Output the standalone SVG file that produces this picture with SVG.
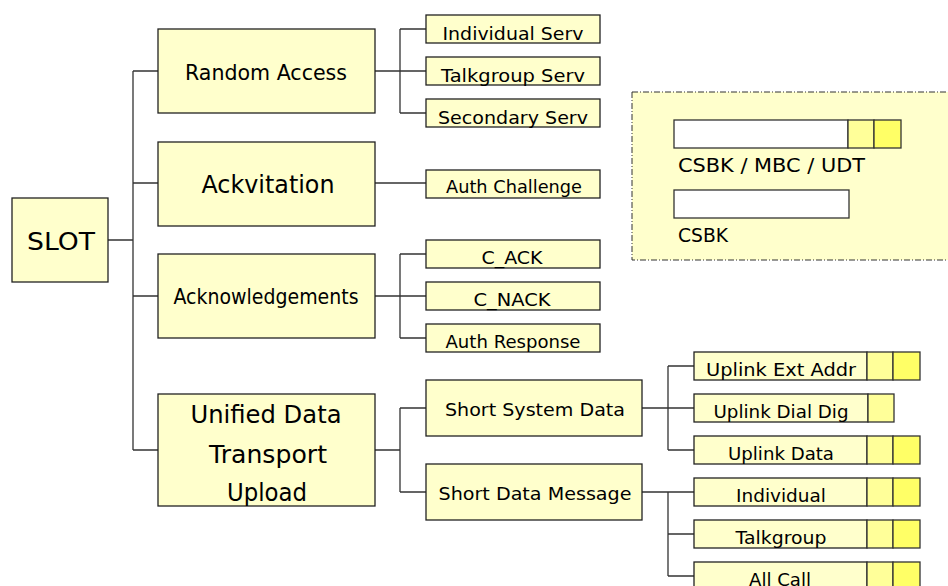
<svg xmlns="http://www.w3.org/2000/svg" width="948" height="586" viewBox="0 0 948 586">
<style>
.n{fill:#FFFFCC;stroke:#222;stroke-width:1.3}
.w{fill:#FFFFFF;stroke:#333;stroke-width:1.3}
.l{fill:#FFFF99;stroke:#333;stroke-width:1.3}
.y{fill:#FFFF66;stroke:#333;stroke-width:1.3}
.c{fill:none;stroke:#333;stroke-width:1.3}
text{font-family:"DejaVu Sans","Liberation Sans",sans-serif;fill:#000;text-anchor:middle}
.b{font-size:25px}
.m{font-size:22px}
.s{font-size:18px}
.t{font-size:19px;text-anchor:start}
</style>
<rect width="948" height="586" fill="#FFFFFF"/>
<g id="legend">
<rect x="632" y="92" width="330" height="168" fill="#FFFFCC" stroke="#333" stroke-width="1" stroke-dasharray="6 2 1 2"/>
<rect class="w" x="674" y="120" width="174" height="28"/>
<rect class="l" x="848" y="120" width="26" height="28"/>
<rect class="y" x="874" y="120" width="27" height="28"/>
<text class="t" x="678" y="172" textLength="187" lengthAdjust="spacingAndGlyphs">CSBK / MBC / UDT</text>
<rect class="w" x="674" y="190" width="175" height="28"/>
<text class="t" x="678" y="242" textLength="50" lengthAdjust="spacingAndGlyphs">CSBK</text>
</g>
<g id="connectors">
<path class="c" d="M108,240H133M133,71V450M133,71H158M133,183H158M133,296H158M133,450H158"/>
<path class="c" d="M375,71H400M400,29V113M400,29H426M400,71H426M400,113H426"/>
<path class="c" d="M375,183H426"/>
<path class="c" d="M375,296H400M400,254V338M400,254H426M400,296H426M400,338H426"/>
<path class="c" d="M375,450H400M400,408V492M400,408H426M400,492H426"/>
<path class="c" d="M642,408H668M668,366V450M668,366H694M668,408H694M668,450H694"/>
<path class="c" d="M642,492H668M668,492V576M668,492H694M668,534H694M668,576H694"/>
</g>
<g id="slot"><rect class="n" x="12" y="198" width="96" height="84"/><text class="b" x="61" y="250" textLength="68" lengthAdjust="spacingAndGlyphs">SLOT</text></g>
<g id="random-access"><rect class="n" x="158" y="29" width="217" height="84"/><text class="m" x="266" y="80" textLength="162" lengthAdjust="spacingAndGlyphs">Random Access</text></g>
<g id="ackvitation"><rect class="n" x="158" y="142" width="217" height="84"/><text class="b" x="268" y="193" textLength="133" lengthAdjust="spacingAndGlyphs">Ackvitation</text></g>
<g id="acknowledgements"><rect class="n" x="158" y="254" width="217" height="84"/><text class="m" x="266" y="304" textLength="185" lengthAdjust="spacingAndGlyphs">Acknowledgements</text></g>
<g id="udt-upload"><rect class="n" x="158" y="394" width="217" height="112"/>
<text class="b" x="266" y="423" textLength="151" lengthAdjust="spacingAndGlyphs">Unified Data</text>
<text class="b" x="268" y="463" textLength="118" lengthAdjust="spacingAndGlyphs">Transport</text>
<text class="b" x="267" y="501" textLength="80" lengthAdjust="spacingAndGlyphs">Upload</text></g>
<g id="individual-serv"><rect class="n" x="426" y="15" width="174" height="28"/><text class="s" x="513" y="40" textLength="141" lengthAdjust="spacingAndGlyphs">Individual Serv</text></g>
<g id="talkgroup-serv"><rect class="n" x="426" y="57" width="174" height="28"/><text class="s" x="513" y="82" textLength="144" lengthAdjust="spacingAndGlyphs">Talkgroup Serv</text></g>
<g id="secondary-serv"><rect class="n" x="426" y="99" width="174" height="28"/><text class="s" x="513" y="124" textLength="150" lengthAdjust="spacingAndGlyphs">Secondary Serv</text></g>
<g id="auth-challenge"><rect class="n" x="426" y="170" width="174" height="28"/><text class="s" x="514" y="193" textLength="136" lengthAdjust="spacingAndGlyphs">Auth Challenge</text></g>
<g id="c-ack"><rect class="n" x="426" y="240" width="174" height="28"/><text class="s" x="512" y="264" textLength="61" lengthAdjust="spacingAndGlyphs">C_ACK</text></g>
<g id="c-nack"><rect class="n" x="426" y="282" width="174" height="28"/><text class="s" x="512" y="306" textLength="77" lengthAdjust="spacingAndGlyphs">C_NACK</text></g>
<g id="auth-response"><rect class="n" x="426" y="324" width="174" height="28"/><text class="s" x="513" y="348" textLength="135" lengthAdjust="spacingAndGlyphs">Auth Response</text></g>
<g id="short-system-data"><rect class="n" x="426" y="380" width="216" height="56"/><text class="s" x="535" y="416" textLength="180" lengthAdjust="spacingAndGlyphs">Short System Data</text></g>
<g id="short-data-message"><rect class="n" x="426" y="464" width="216" height="56"/><text class="s" x="535" y="500" textLength="193" lengthAdjust="spacingAndGlyphs">Short Data Message</text></g>
<g id="uplink-ext-addr"><rect class="n" x="694" y="352" width="173" height="28"/><rect class="l" x="867" y="352" width="26" height="28"/><rect class="y" x="893" y="352" width="27" height="28"/><text class="s" x="781" y="376" textLength="150" lengthAdjust="spacingAndGlyphs">Uplink Ext Addr</text></g>
<g id="uplink-dial-dig"><rect class="n" x="694" y="394" width="174" height="28"/><rect class="l" x="868" y="394" width="26" height="28"/><text class="s" x="781" y="418" textLength="135" lengthAdjust="spacingAndGlyphs">Uplink Dial Dig</text></g>
<g id="uplink-data"><rect class="n" x="694" y="436" width="173" height="28"/><rect class="l" x="867" y="436" width="26" height="28"/><rect class="y" x="893" y="436" width="27" height="28"/><text class="s" x="781" y="460" textLength="106" lengthAdjust="spacingAndGlyphs">Uplink Data</text></g>
<g id="individual"><rect class="n" x="694" y="478" width="173" height="28"/><rect class="l" x="867" y="478" width="26" height="28"/><rect class="y" x="893" y="478" width="27" height="28"/><text class="s" x="781" y="502" textLength="90" lengthAdjust="spacingAndGlyphs">Individual</text></g>
<g id="talkgroup"><rect class="n" x="694" y="520" width="173" height="28"/><rect class="l" x="867" y="520" width="26" height="28"/><rect class="y" x="893" y="520" width="27" height="28"/><text class="s" x="781" y="544" textLength="91" lengthAdjust="spacingAndGlyphs">Talkgroup</text></g>
<g id="all-call"><rect class="n" x="694" y="562" width="173" height="28"/><rect class="l" x="867" y="562" width="26" height="28"/><rect class="y" x="893" y="562" width="27" height="28"/><text class="s" x="780" y="586" textLength="62" lengthAdjust="spacingAndGlyphs">All Call</text></g>
</svg>
